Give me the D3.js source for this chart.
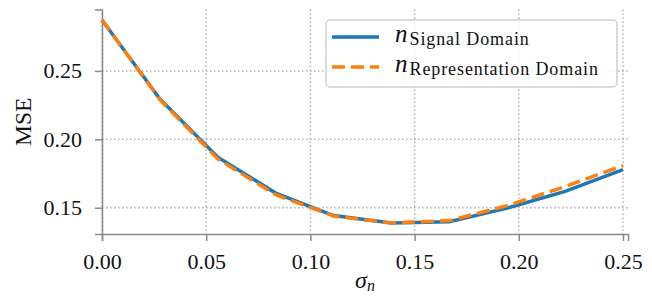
<!DOCTYPE html>
<html>
<head>
<meta charset="utf-8">
<script src="https://cdn.jsdelivr.net/npm/d3@7"></script>
<style>
  body { margin: 0; background: #fff; }
</style>
</head>
<body>
<svg id="chart" width="652" height="297"></svg>
<script>
'use strict';
// values
var sigma = [0, 0.02778, 0.05556, 0.08333, 0.11111, 0.13889, 0.16667, 0.19444, 0.22222, 0.25],
    signalDomain = [0.2872, 0.2295, 0.1870, 0.1607, 0.1443, 0.1388, 0.1397, 0.1497, 0.1620, 0.1778],
    reprDomain   = [0.2874, 0.2290, 0.1857, 0.1595, 0.1440, 0.1388, 0.1406, 0.1515, 0.1655, 0.1808],
    xTicks = [0, 0.05, 0.10, 0.15, 0.20, 0.25],
    yTicks = [0.15, 0.20, 0.25],
    seriesNames = ['Signal Domain', 'Representation Domain'];

var serif = '"Liberation Serif", "DejaVu Serif", serif';
var plotLeft = 102, plotRight = 628, plotTop = 9.5, plotBottom = 234;

var svg = d3.select('#chart');
var x = d3.scaleLinear().domain([0, 0.2524]).range([plotLeft, plotRight]);
var y = d3.scaleLinear().domain([0.1308, 0.2949]).range([plotBottom, plotTop]);

//grid
var grid = svg.append('g')
  .attr('stroke', '#b0b0b0')
  .attr('stroke-width', 1.5)
  .attr('stroke-dasharray', '1.5,2.5');
grid.selectAll('.gx').data(xTicks).enter().append('line')
  .attr('x1', d => x(d)).attr('x2', d => x(d))
  .attr('y1', plotTop).attr('y2', plotBottom);
grid.selectAll('.gy').data(yTicks).enter().append('line')
  .attr('x1', plotLeft).attr('x2', plotRight)
  .attr('y1', d => y(d)).attr('y2', d => y(d));

//axes
var xAxis = svg.append('g')
  .attr('transform', 'translate(0,' + plotBottom + ')')
  .call(d3.axisBottom(x).tickValues(xTicks).tickFormat(d3.format('.2f')).tickSizeOuter(0).tickSize(7).tickPadding(12));
var yAxis = svg.append('g')
  .attr('transform', 'translate(' + plotLeft + ',0)')
  .call(d3.axisLeft(y).tickValues(yTicks).tickFormat(d3.format('.2f')).tickSizeOuter(0).tickSize(7).tickPadding(13));
[xAxis, yAxis].forEach(function(a){
  a.attr('font-family', serif).attr('font-size', 22);
  a.select('.domain').attr('stroke', '#8a8a8a').attr('stroke-width', 1.5);
  a.selectAll('.tick line').attr('stroke', '#8a8a8a').attr('stroke-width', 1.5);
  a.selectAll('.tick text').attr('fill', '#111');
});

//lines
var line = d3.line().x((d, i) => x(sigma[i])).y(d => y(d));
svg.append('path').datum(signalDomain)
  .attr('fill', 'none').attr('stroke', '#1f77b4').attr('stroke-width', 3.5)
  .attr('d', line);
svg.append('path').datum(reprDomain)
  .attr('fill', 'none').attr('stroke', '#ff7f0e').attr('stroke-width', 3.5)
  .attr('stroke-dasharray', '13,6')
  .attr('d', line);

//labels
svg.append('text')
  .attr('x', (plotLeft + plotRight) / 2).attr('y', 288)
  .attr('text-anchor', 'middle')
  .attr('font-family', serif).attr('font-size', 24).attr('fill', '#111')
  .call(function(t){
    t.append('tspan').attr('font-style', 'italic').text('σ');
    t.append('tspan').attr('font-style', 'italic').attr('font-size', 16).attr('dy', 3).text('n');
  });
svg.append('text')
  .attr('transform', 'translate(31,' + ((plotTop + plotBottom) / 2) + ') rotate(-90)')
  .attr('text-anchor', 'middle')
  .attr('font-family', serif).attr('font-size', 23.5).attr('fill', '#111')
  .text('MSE');

//legend
var legend = svg.append('g');
legend.append('rect')
  .attr('x', 326).attr('y', 20).attr('width', 291).attr('height', 67)
  .attr('rx', 4)
  .attr('fill', 'rgba(255,255,255,0.85)')
  .attr('stroke', '#d0d0d0').attr('stroke-width', 1.5);
var items = [
  {name: seriesNames[0], color: '#1f77b4', dash: null, y: 37},
  {name: seriesNames[1], color: '#ff7f0e', dash: '13,6', y: 67}
];
items.forEach(function(d){
  legend.append('line')
    .attr('x1', 332).attr('x2', 379).attr('y1', d.y).attr('y2', d.y)
    .attr('stroke', d.color).attr('stroke-width', 3.5)
    .attr('stroke-dasharray', d.dash);
  var t = legend.append('text').attr('x', 395).attr('y', d.y + 5)
    .attr('font-family', serif).attr('font-size', 25).attr('fill', '#111');
  t.append('tspan').attr('font-style', 'italic').text('n');
  t.append('tspan').attr('dx', 2).attr('dy', 3).attr('font-size', 18).attr('letter-spacing', 0.9).text(d.name);
});
</script>
</body>
</html>
